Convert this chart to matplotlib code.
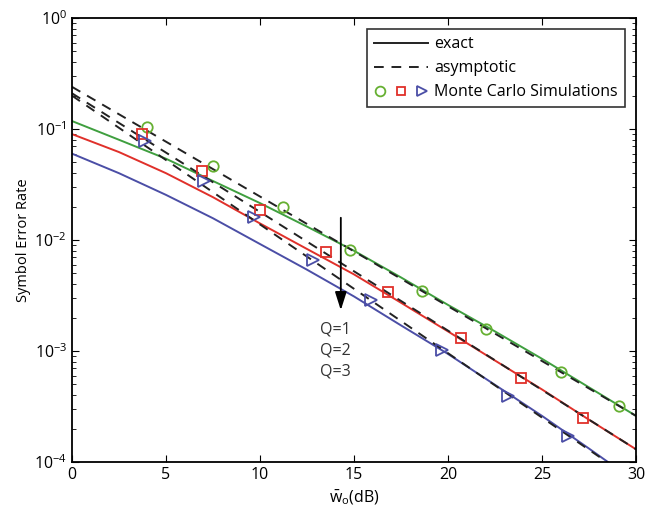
import numpy as np
import matplotlib
matplotlib.use('Agg')
import matplotlib.pyplot as plt
from matplotlib.lines import Line2D
from matplotlib.legend_handler import HandlerTuple

plt.rcParams['font.family'] = ['Open Sans', 'DejaVu Sans']
plt.rcParams['mathtext.fontset'] = 'custom'
plt.rcParams['mathtext.rm'] = 'Open Sans'

# exact curves (read every 2.5 dB)
snr = [0, 2.5, 5, 7.5, 10, 12.5, 15, 17.5, 20, 22.5, 25, 27.5, 30]
exact_q1 = [0.118, 0.080, 0.054, 0.034, 0.0215, 0.0132, 0.008, 0.0046, 0.0026, 0.0015, 0.00085, 0.00047, 0.00026]
exact_q2 = [0.090, 0.062, 0.040, 0.0243, 0.0141, 0.0083, 0.0049, 0.00272, 0.0015, 0.00082, 0.00045, 0.00024, 0.00013]
exact_q3 = [0.060, 0.040, 0.0255, 0.0157, 0.0092, 0.0054, 0.0031, 0.0017, 0.00094, 0.000495, 0.00026, 0.000132, 0.000066]

# asymptotic lines (straight in log scale) - end points
asym_x = [0, 30]
asym_q1 = [0.24, 0.00026]
asym_q2 = [0.21, 0.00013]
asym_q3 = [0.20, 0.000066]

# Monte Carlo points
mc_x1 = [4.0, 7.5, 11.2, 14.8, 18.6, 22.0, 26.0, 29.1]
mc_q1 = [0.104, 0.046, 0.020, 0.0081, 0.0035, 0.00158, 0.00065, 0.00032]
mc_x2 = [3.7, 6.9, 10.0, 13.5, 16.8, 20.7, 23.9, 27.2]
mc_q2 = [0.090, 0.042, 0.0186, 0.0078, 0.0034, 0.0013, 0.00057, 0.00025]
mc_x3 = [3.9, 7.0, 9.7, 12.8, 15.9, 19.7, 23.2, 26.4]
mc_q3 = [0.078, 0.034, 0.016, 0.0066, 0.0029, 0.00102, 0.00039, 0.00017]

green = '#3f9f3f'
red = '#e0302a'
blue = '#4b4ea6'
green_mk = '#66b032'

fig = plt.figure(figsize=(6.66, 5.15), dpi=100)
ax = fig.add_axes([0.108, 0.103, 0.847, 0.862])

dash = (0, (5, 4))
ax.semilogy(snr, exact_q1, color=green, lw=1.4)
ax.semilogy(snr, exact_q2, color=red, lw=1.4)
ax.semilogy(snr, exact_q3, color=blue, lw=1.4)
ax.semilogy(asym_x, asym_q1, color='#222222', lw=1.4, linestyle=dash)
ax.semilogy(asym_x, asym_q2, color='#222222', lw=1.4, linestyle=dash)
ax.semilogy(asym_x, asym_q3, color='#222222', lw=1.4, linestyle=dash)

ax.plot(mc_x1, mc_q1, 'o', mfc='none', mec=green_mk, mew=1.3, ms=7.5)
ax.plot(mc_x2, mc_q2, 's', mfc='none', mec=red, mew=1.3, ms=7)
ax.plot(mc_x3, mc_q3, '>', mfc='none', mec=blue, mew=1.3, ms=8)

ax.set_xlim(0, 30)
ax.set_ylim(1e-4, 1)
ax.set_xticks([0, 5, 10, 15, 20, 25, 30])
ax.tick_params(which='both', direction='in', top=True, right=True, labelsize=11.5)
ax.tick_params(which='major', length=5)
ax.tick_params(which='minor', length=3)
for s in ax.spines.values():
    s.set_linewidth(1.3)

ax.set_xlabel(r'$\bar{\mathrm{w}}_{\mathrm{o}}$(dB)', fontsize=11.5, labelpad=4)
ax.set_ylabel('Symbol Error Rate', fontsize=10.5, labelpad=2)

# arrow and Q labels
ax.annotate('', xy=(14.3, 0.0022), xytext=(14.3, 0.0168),
            arrowprops=dict(arrowstyle='-|>,head_width=0.35,head_length=1.1',
                            color='black', lw=1.3))
ax.text(14.0, 0.00155, 'Q=1', ha='center', va='center', fontsize=11.5, color='#333333')
ax.text(14.0, 0.00102, 'Q=2', ha='center', va='center', fontsize=11.5, color='#333333')
ax.text(14.0, 0.00065, 'Q=3', ha='center', va='center', fontsize=11.5, color='#333333')

h_exact = Line2D([], [], color='#222222', lw=1.4)
h_asym = Line2D([], [], color='#222222', lw=1.4, linestyle=dash)
m1 = Line2D([], [], marker='o', ls='none', mfc='none', mec=green_mk, mew=1.3, ms=7)
m2 = Line2D([], [], marker='s', ls='none', mfc='none', mec=red, mew=1.3, ms=6)
m3 = Line2D([], [], marker='>', ls='none', mfc='none', mec=blue, mew=1.3, ms=7)
leg = ax.legend([h_exact, h_asym, (m1, m2, m3)],
                ['exact', 'asymptotic', 'Monte Carlo Simulations'],
                handler_map={tuple: HandlerTuple(ndivide=None, pad=0.6)},
                loc='upper right', bbox_to_anchor=(0.981, 0.975),
                borderaxespad=0,
                fontsize=11.5, handlelength=3.4, handletextpad=0.4,
                labelspacing=0.5, borderpad=0.45,
                fancybox=False, edgecolor='#333333', framealpha=1)
leg.get_frame().set_linewidth(1.2)

fig.savefig('out.png', dpi=100)
